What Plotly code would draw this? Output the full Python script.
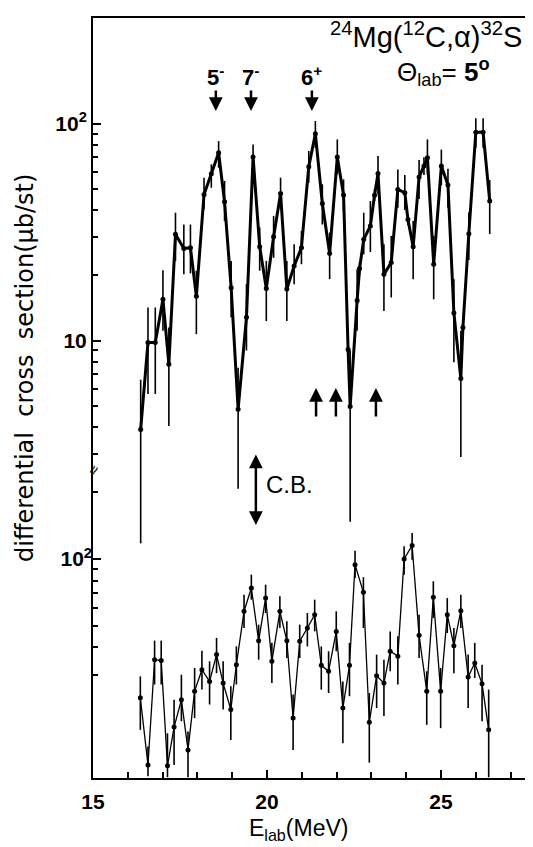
import plotly.graph_objects as go

# ---- upper excitation function (24Mg(12C,a)32S, theta_lab = 5 deg) ----
E_up = [16.37, 16.58, 16.79, 17.01, 17.18, 17.37, 17.61, 17.80, 17.97, 18.19,
        18.40, 18.61, 18.78, 18.97, 19.17, 19.41, 19.60, 19.79, 19.98, 20.19,
        20.39, 20.57, 20.78, 20.99, 21.20, 21.39, 21.59, 21.80, 22.02, 22.20,
        22.33, 22.39, 22.59, 22.66, 22.78, 22.97, 23.09, 23.19, 23.36, 23.57,
        23.76, 23.96, 24.05, 24.20, 24.37, 24.51, 24.61, 24.79, 25.01, 25.20,
        25.37, 25.57, 25.63, 25.80, 26.00, 26.21, 26.40]
sig_up = [3.89, 9.8, 9.8, 15.5, 7.78, 30.9, 26.6, 26.8, 16.0, 47.2,
          58.8, 73.5, 43.7, 17.5, 4.82, 12.8, 70.2, 27.1, 17.4, 30.1,
          47.7, 17.3, 22.1, 26.8, 63.4, 90.0, 42.9, 25.2, 70.2, 46.9,
          9.1, 4.97, 15.3, 21.5, 29.3, 33.8, 46.8, 59.0, 20.2, 22.9,
          49.8, 48.1, 36.2, 27.1, 56.8, 63.8, 69.7, 22.5, 63.8, 52.2,
          13.4, 6.68, 11.5, 31.1, 91.5, 91.5, 44.0]
hi_up = [6.6, 14.2, 14.2, 21.1, 11.5, 38.9, 34.3, 34.3, 21.0, 56.4,
         65.0, 83.2, 54.5, 23.3, 7.5, 18.2, 80.3, 33.2, 23.3, 37.6,
         56.4, 23.3, 27.8, 32.0, 74.9, 103, 52.6, 31.5, 84.7, 55.4,
         10.0, 9.0, 21.3, 23.0, 38.9, 44.0, 50.0, 71.0, 27.8, 30.4,
         61.6, 58.0, 38.0, 35.6, 68.0, 70.0, 84.7, 30.4, 76.0, 62.0,
         19.2, 11.1, 12.5, 39.0, 106, 106, 55.0]
lo_up = [1.16, 5.67, 5.67, 11.1, 4.04, 23.3, 20.2, 20.4, 10.7, 40.3,
         50.7, 62.7, 35.6, 12.8, 2.07, 9.0, 58.4, 21.0, 12.3, 24.1,
         40.3, 12.3, 18.2, 22.5, 53.5, 77.5, 34.3, 19.2, 58.4, 39.7,
         8.3, 1.46, 11.1, 20.0, 25.0, 25.6, 44.0, 47.3, 13.7, 15.8,
         41.0, 40.0, 34.0, 19.2, 45.0, 58.0, 58.4, 15.5, 52.0, 41.0,
         7.95, 2.9, 10.5, 23.5, 77.5, 77.5, 31.0]

# ---- lower excitation function ----
E_lo = [16.36, 16.58, 16.77, 16.96, 17.14, 17.33, 17.54, 17.73, 17.92, 18.13,
        18.35, 18.55, 18.74, 18.96, 19.12, 19.34, 19.55, 19.76, 19.96, 20.14,
        20.37, 20.57, 20.75, 20.94, 21.16, 21.37, 21.56, 21.77, 21.99, 22.18,
        22.37, 22.53, 22.77, 22.94, 23.15, 23.36, 23.54, 23.76, 23.94, 24.17,
        24.37, 24.59, 24.78, 24.99, 25.18, 25.37, 25.57, 25.78, 25.97, 26.18,
        26.37]
sig_lo = [23.7, 11.8, 35.2, 34.9, 11.7, 17.5, 23.2, 13.8, 25.4, 31.7,
          28.1, 37.1, 27.6, 21.0, 33.4, 58.1, 74.0, 42.8, 66.7, 34.6,
          58.1, 42.8, 19.2, 42.6, 48.9, 56.1, 33.2, 31.2, 47.2, 21.3,
          33.2, 94.3, 70.8, 18.4, 29.8, 27.6, 38.4, 36.5, 100, 115,
          45.3, 25.4, 67.2, 25.4, 56.1, 40.7, 58.5, 29.4, 34.0, 27.4,
          17.0]
hi_lo = [29.6, 14.3, 42.9, 42.9, 16.4, 23.2, 30.1, 16.7, 32.3, 38.6,
         34.6, 44.1, 34.6, 26.7, 40.4, 69.1, 85.0, 50.6, 76.6, 41.9,
         67.9, 52.4, 24.5, 50.6, 57.1, 65.6, 40.4, 38.4, 58.1, 28.1,
         41.9, 109, 82.8, 24.9, 37.1, 35.2, 47.2, 44.9, 114, 131,
         56.1, 31.2, 79.4, 32.3, 66.7, 48.9, 69.1, 37.1, 41.9, 33.4,
         25.8]
lo_lo = [17.0, 10.5, 27.2, 27.2, 10.4, 11.8, 18.6, 10.4, 19.2, 25.8,
         22.1, 30.6, 21.0, 15.3, 27.2, 48.9, 65.6, 35.2, 57.1, 27.6,
         48.9, 35.8, 13.8, 35.8, 40.4, 47.2, 25.8, 24.9, 38.4, 14.8,
         24.1, 82.1, 48.9, 12.1, 21.3, 19.6, 31.2, 27.2, 85.0, 99.3,
         35.8, 17.9, 54.2, 17.3, 46.4, 30.6, 48.9, 21.3, 29.1, 18.6,
         10.4]

x_ticks = [15, 20, 25]
x_ticklabels = ["15", "20", "25"]

spin_E = [18.53, 19.54, 21.29]
spin_labels = ["5<sup>-</sup>", "7<sup>-</sup>", "6<sup>+</sup>"]
up_arrow_E = [21.41, 21.98, 23.13]
cb_E = 19.68

BOLDFAM = "Liberation Sans Narrow, Liberation Sans, Arial"
TXT = "Liberation Sans, Arial, sans-serif"

fig = go.Figure()

fig.add_trace(go.Scatter(
    x=E_up, y=sig_up, mode="lines+markers", yaxis="y",
    line=dict(color="black", width=3),
    marker=dict(color="black", size=5),
    error_y=dict(type="data", symmetric=False,
                 array=[h - v for h, v in zip(hi_up, sig_up)],
                 arrayminus=[v - l for v, l in zip(sig_up, lo_up)],
                 color="black", thickness=1.6, width=0),
    showlegend=False))

fig.add_trace(go.Scatter(
    x=E_lo, y=sig_lo, mode="lines+markers", yaxis="y2",
    line=dict(color="black", width=1.3),
    marker=dict(color="black", size=5),
    error_y=dict(type="data", symmetric=False,
                 array=[h - v for h, v in zip(hi_lo, sig_lo)],
                 arrayminus=[v - l for v, l in zip(sig_lo, lo_lo)],
                 color="black", thickness=1.6, width=0),
    showlegend=False))

H, T, B = 847, 10, 77
PH = H - T - B
def py(ypix):
    return (H - B - ypix) / PH
def px(xpix):
    return (xpix - 85) / 448

ann = []
ann.append(dict(text="<sup>24</sup>Mg(<sup>12</sup>C,α)<sup>32</sup>S", xref="paper", yref="paper",
                x=px(320), y=py(27), xanchor="left", yanchor="middle", showarrow=False,
                font=dict(family=TXT, size=29, color="black")))
ann.append(dict(text="Θ<sub>lab</sub>= <b>5<sup>o</sup></b>", xref="paper", yref="paper",
                x=px(435), y=py(64), xanchor="center", yanchor="middle", showarrow=False,
                font=dict(family=TXT, size=26, color="black")))
for e, lab in zip(spin_E, spin_labels):
    ann.append(dict(text="<b>" + lab + "</b>", xref="x", yref="paper", x=e, y=py(68),
                    xanchor="center", yanchor="middle", showarrow=False,
                    font=dict(family=BOLDFAM, size=22, color="black")))
    ann.append(dict(text="", xref="x", yref="paper", x=e, y=py(103), ax=0, ay=-22,
                    axref="pixel", ayref="pixel", showarrow=True, arrowhead=2,
                    arrowsize=1.1, arrowwidth=2.5, arrowcolor="black"))
for e in up_arrow_E:
    ann.append(dict(text="", xref="x", yref="paper", x=e, y=py(380), ax=0, ay=30,
                    showarrow=True, arrowhead=2, arrowsize=1.1, arrowwidth=2.5,
                    arrowcolor="black"))
ann.append(dict(text="", xref="x", yref="paper", x=cb_E, y=py(517), ax=0, ay=-72,
                showarrow=True, arrowhead=2, startarrowhead=2, arrowside="end+start",
                arrowsize=1.1, arrowwidth=2.5, arrowcolor="black"))
ann.append(dict(text="C.B.", xref="paper", yref="paper", x=px(256), y=py(476),
                xanchor="left", yanchor="middle", showarrow=False,
                font=dict(family=TXT, size=24, color="black")))
ann.append(dict(text="≈", xref="paper", yref="paper", x=0.0, y=py(462),
                xanchor="center", yanchor="middle", showarrow=False, textangle=-60,
                font=dict(family=TXT, size=16, color="black")))
ann.append(dict(text="differential&nbsp;&nbsp;cross&nbsp;&nbsp;section(μb/st)",
                xref="paper", yref="paper",
                x=px(17), y=py(360), xanchor="center", yanchor="middle",
                showarrow=False, textangle=-90,
                font=dict(family="DejaVu Sans, sans-serif", size=24, color="black")))
ann.append(dict(text="E<sub>lab</sub>(MeV)", xref="paper", yref="paper",
                x=px(290), y=py(821), xanchor="center", yanchor="middle",
                showarrow=False, font=dict(family=TXT, size=23, color="black")))

fig.update_layout(
    width=533, height=H,
    margin=dict(l=85, r=0, t=T, b=B),
    paper_bgcolor="white", plot_bgcolor="white",
    annotations=ann,
    xaxis=dict(range=[15, 15 + 448 / 34.8], showgrid=False, zeroline=False,
               showline=True, linecolor="black", linewidth=2, mirror=True,
               tickmode="array", tickvals=x_ticks, ticktext=x_ticklabels,
               ticks="inside", ticklen=8, tickwidth=2, tickcolor="black",
               ticklabelstandoff=4,
               tickfont=dict(family=BOLDFAM, size=21, color="black", weight="bold"),
               minor=dict(tickmode="linear", dtick=1, ticks="inside", ticklen=6,
                          tickwidth=1.5, tickcolor="black")),
    yaxis=dict(type="log", range=[-1.018, 2.488], showgrid=False, zeroline=False,
               showline=True, linecolor="black", linewidth=2,
               tickmode="array", tickvals=[10, 100], ticktext=["10", "10<sup>2</sup>"],
               ticks="inside", ticklen=8, tickwidth=2, tickcolor="black",
               tickfont=dict(family=BOLDFAM, size=21, color="black", weight="bold"),
               minor=dict(tickmode="array",
                          tickvals=[3, 4, 5, 6, 7, 8, 9, 20, 30, 40, 50, 60, 70, 80, 90],
                          ticks="inside", ticklen=5, tickwidth=1.5, tickcolor="black")),
    yaxis2=dict(type="log", range=[1.0135, 4.437], overlaying="y", side="left",
                anchor="x", showgrid=False, zeroline=False, showline=False,
                tickmode="array", tickvals=[100], ticktext=["10<sup>2</sup>"],
                ticks="inside", ticklen=8, tickwidth=2, tickcolor="black",
                tickfont=dict(family=BOLDFAM, size=21, color="black", weight="bold"),
                minor=dict(tickmode="array",
                           tickvals=[30, 40, 50, 60, 70, 80, 90, 200],
                           ticks="inside", ticklen=5, tickwidth=1.5, tickcolor="black")),
)

fig.write_html("out.html")
